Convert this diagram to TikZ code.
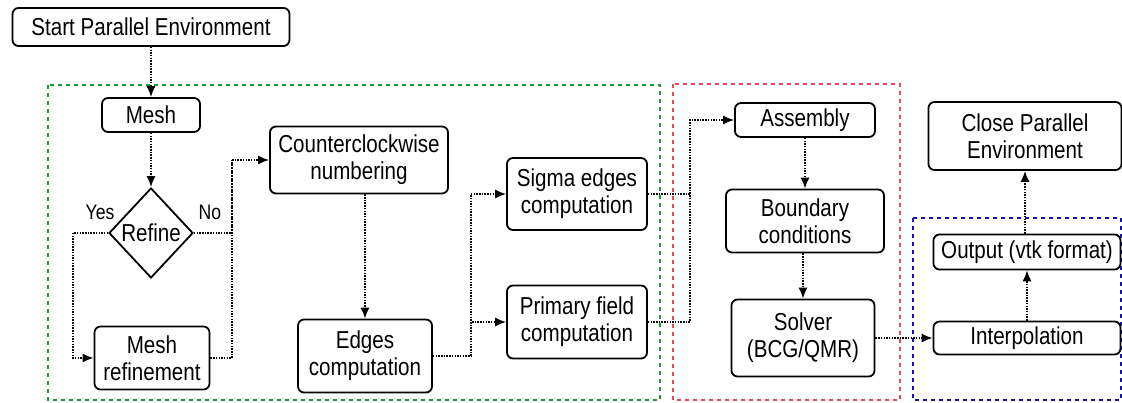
\documentclass[tikz,border=0pt]{standalone}
\usepackage{fontspec}
\setmainfont{Liberation Sans}[FakeStretch=0.84]
\usetikzlibrary{shapes.geometric,arrows.meta,positioning}
\definecolor{zonegreen}{RGB}{30,150,50}
\definecolor{zonered}{RGB}{235,70,90}
\definecolor{zoneblue}{RGB}{20,20,170}

\begin{document}
\begin{tikzpicture}[
    x=1pt, y=-1pt,
    font=\fontsize{24.5}{27}\selectfont,
    block/.style={rectangle, draw, line width=1.8pt, rounded corners=6pt, align=center, inner sep=2pt},
    decision/.style={diamond, draw, line width=1.8pt, inner sep=0pt, aspect=0.9, minimum width=84pt, minimum height=90pt},
    answer/.style={font=\fontsize{21}{24}\selectfont},
    flow/.style={-{Latex[length=11pt,width=9pt]}, line width=1.5pt, dash pattern=on 1.5pt off 1.2pt},
    link/.style={line width=1.5pt, dash pattern=on 1.5pt off 1.2pt},
    zone/.style={line width=1.6pt, dash pattern=on 4pt off 4pt}
]
\useasboundingbox (0,0) rectangle (1122,403);

% dashed regions
\draw[zone, zonegreen] (48,85) rectangle (660,400);
\draw[zone, zonered] (673,84) rectangle (900,400);
\draw[zone, zoneblue] (913,218) rectangle (1121,400);

% mesh part
\node[block, minimum width=277pt, minimum height=38pt] (start) at (151,27) {Start Parallel Environment};
\node[block, minimum width=98pt, minimum height=34pt] (mesh) at (151,115) {Mesh};
\node[decision] (refine) at (151,233) {Refine};
\node[block, minimum width=115pt, minimum height=63pt] (meshref) at (152,358) {Mesh\\refinement};
\node[answer] (yes) at (100,212) {Yes};
\node[answer] (no) at (210,212) {No};

% edges part
\node[block, minimum width=178pt, minimum height=67pt] (ccw) at (359,160) {Counterclockwise\\numbering};
\node[block, minimum width=134pt, minimum height=73pt] (edges) at (365,356) {Edges\\computation};
\node[block, minimum width=140pt, minimum height=72pt] (sigma) at (577,194) {Sigma edges\\computation};
\node[block, minimum width=140pt, minimum height=73pt] (primary) at (577,322) {Primary field\\computation};

% solver part
\node[block, minimum width=140pt, minimum height=34pt] (assembly) at (805,120) {Assembly};
\node[block, minimum width=158pt, minimum height=63pt] (boundary) at (805,221) {Boundary\\conditions};
\node[block, minimum width=143pt, minimum height=77pt] (solver) at (803,338) {Solver\\(BCG/QMR)};

% output part
\node[block, minimum width=187pt, minimum height=33pt] (interp) at (1027,338) {Interpolation};
\node[block, minimum width=187pt, minimum height=35pt] (output) at (1027,252) {Output (vtk format)};
\node[block, minimum width=193pt, minimum height=68pt] (close) at (1025,136) {Close Parallel\\Environment};

\coordinate (yesbend) at (73,233);
\coordinate (nojoin) at (232,160);
\coordinate[right=38pt of edges.east] (edgesplit);
\coordinate (asmbus) at (690,120);

\draw[flow] (start) -- (mesh);
\draw[flow] (mesh) -- (refine);
\draw[flow] (refine.west) -- (yesbend) |- (meshref.west);
\draw[link] (refine.east) -| (nojoin);
\draw[link] (meshref.east) -| (nojoin);
\draw[flow] (nojoin) -- (ccw.west);
\draw[flow] (ccw.south -| edges.north) -- (edges.north);
\draw[link] (edges.east) -- (edgesplit);
\draw[flow] (edgesplit) |- (sigma.west);
\draw[flow] (edgesplit) |- (primary.west);
\draw[link] (sigma.east) -- (sigma.east -| asmbus);
\draw[flow] (primary.east) -| (asmbus) -- (assembly.west);
\draw[flow] (assembly) -- (boundary);
\draw[flow] (boundary.south -| solver.north) -- (solver.north);
\draw[flow] (solver) -- (interp);
\draw[flow] (interp) -- (output);
\draw[flow] (output.north -| close.south) -- (close.south);

\end{tikzpicture}
\end{document}
